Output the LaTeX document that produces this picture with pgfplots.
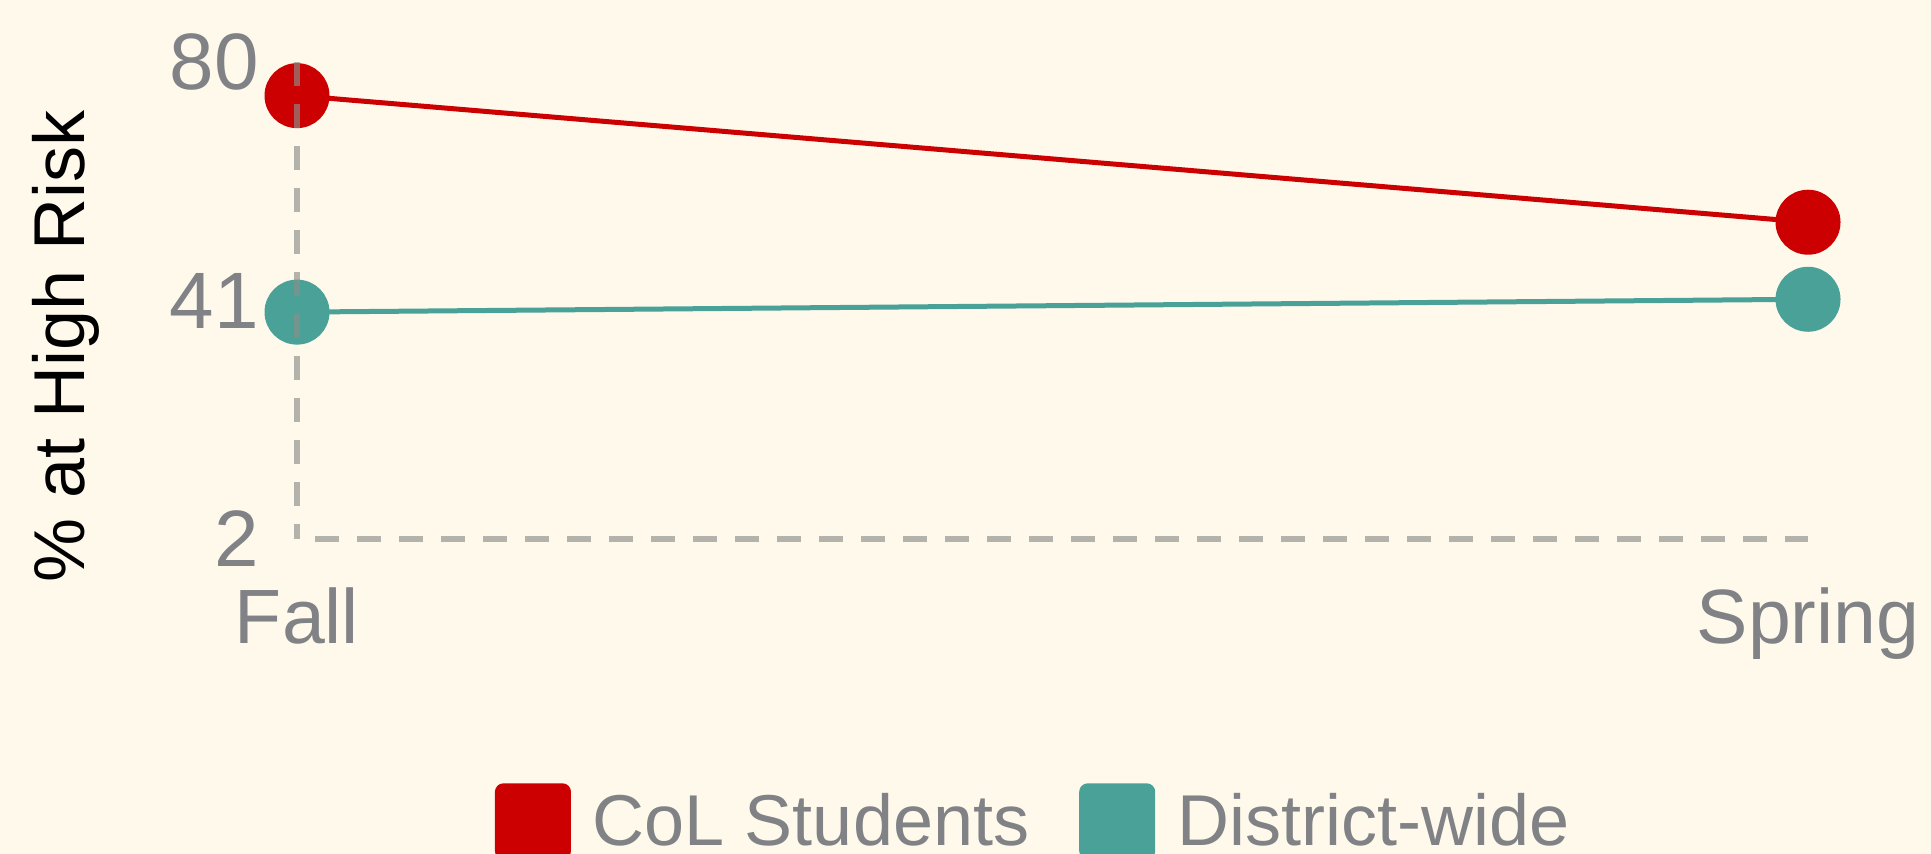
\documentclass[border=0pt]{standalone}
\usepackage{pgfplots}
\pgfplotsset{compat=1.18}
\usepackage{fontspec}
\setmainfont{Liberation Sans}
\definecolor{bgc}{HTML}{FEF9EB}
\definecolor{colR}{HTML}{CC0000}
\definecolor{colT}{HTML}{4AA197}
\definecolor{txtg}{HTML}{808285}
\definecolor{axg}{RGB}{140,142,138}
\newcommand{\bigf}{\fontsize{36}{40}\selectfont}
\begin{document}
\begin{tikzpicture}
\fill[bgc] (0,0) rectangle (965.5pt,427pt);
\begin{axis}[
  set layers=axis on top,
  at={(148.5pt,157.5pt)}, anchor=south west,
  scale only axis, width=755.5pt, height=238.5pt,
  xmin=0, xmax=1, ymin=2, ymax=80,
  clip=false, axis on top,
  axis lines=left,
  axis line style={-, axg, draw opacity=0.65, line width=3pt, dash pattern=on 12pt off 9pt},
  x axis line style={dash phase=12pt},
  y axis line style={dash phase=4.5pt},
  xtick={0,1}, xticklabels={Fall,Spring},
  ytick={2,41,80}, yticklabels={2,41,80},
  major tick length=0pt,
  /pgf/number format/assume math mode=true,
  tick label style={text=txtg, inner sep=0pt},
  xticklabel style={font=\fontsize{38.5}{42}\selectfont, anchor=north, yshift=-24pt},
  yticklabel style={font=\fontsize{40}{44}\selectfont, anchor=east, xshift=-19pt},
  ylabel={\% at High Risk},
  ylabel style={font=\bigf, text=black, at={(axis description cs:-0.1532,0.4046)}, anchor=center},
  legend columns=2,
  legend style={at={(axis description cs:0.131,-0.592)}, anchor=west, draw=none, fill=none,
    inner sep=0pt, outer sep=0pt, font=\bigf, nodes={inner sep=0pt, text=txtg},
    /tikz/every even column/.append style={column sep=25pt}},
]
\addplot[colR, line width=2.5pt, mark=*, mark size=15pt, mark options={draw=none, fill=colR},
  legend image code/.code={\fill[colR, rounded corners=3pt] (0pt,-17.75pt) rectangle (35.5pt,17.75pt); \path (46.5pt,0pt);}]
  coordinates {(0,74.5) (1,53.8)};
\addlegendentry{CoL Students}
\addplot[colT, line width=2.5pt, mark=*, mark size=15pt, mark options={draw=none, fill=colT},
  legend image code/.code={\fill[colT, rounded corners=3pt] (0pt,-17.75pt) rectangle (35.5pt,17.75pt); \path (46.5pt,0pt);}]
  coordinates {(0,39.1) (1,41.2)};
\addlegendentry{District-wide}
\end{axis}
\pgfresetboundingbox
\path[use as bounding box] (0,0) rectangle (965.5pt,427pt);
\end{tikzpicture}
\end{document}
